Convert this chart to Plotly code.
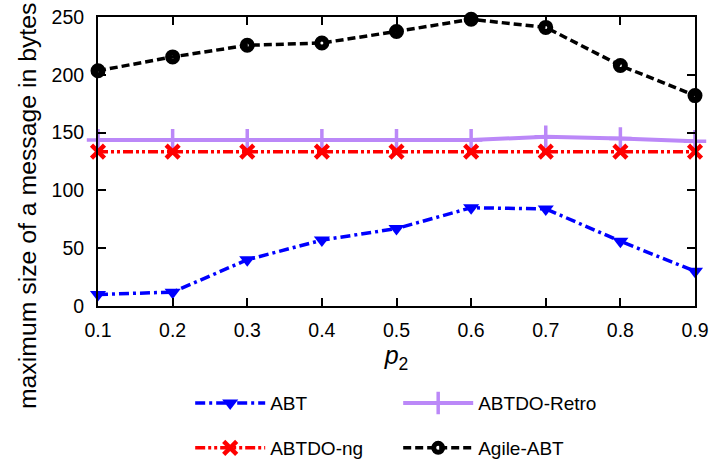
import plotly.graph_objects as go

p2 = [0.1, 0.2, 0.3, 0.4, 0.5, 0.6, 0.7, 0.8, 0.9]
abt = [10, 12, 40, 57, 67, 85, 84, 56, 30]
abtdo_retro = [143.5, 143.5, 143.5, 143.5, 143.5, 143.5, 146.5, 145, 142.5]
abtdo_ng = [133.5, 133.5, 133.5, 133.5, 133.5, 133.5, 133.5, 133.5, 133.5]
agile_abt = [203.5, 215.5, 225.5, 227.5, 237.5, 248, 241, 208, 182]

x_ticks = [0.1, 0.2, 0.3, 0.4, 0.5, 0.6, 0.7, 0.8, 0.9]
y_ticks = [0, 50, 100, 150, 200, 250]
y_title = "maximum size of a message in bytes"

FONT = "Liberation Sans, Arial, sans-serif"

fig = go.Figure()
fig.add_trace(go.Scatter(
    x=p2, y=abt, name="ABT", mode="lines+markers", legend="legend",
    line=dict(color="#0000ff", width=3.5, dash="10px,4px,3px,4px"),
    marker=dict(symbol="triangle-down", size=14, color="#0000ff"),
    cliponaxis=False))
fig.add_trace(go.Scatter(
    x=p2, y=abtdo_retro, name="ABTDO-Retro", mode="lines+markers", legend="legend",
    line=dict(color="#bb88f8", width=4),
    marker=dict(symbol="cross-thin", size=16, color="#bb88f8",
                line=dict(color="#bb88f8", width=3.5)),
    cliponaxis=False))
fig.add_trace(go.Scatter(
    x=p2, y=abtdo_ng, name="ABTDO-ng", mode="lines+markers", legend="legend2",
    line=dict(color="#ff0000", width=3.5, dash="10px,3px,3px,3px,3px,3px"),
    marker=dict(symbol="x-thin", size=13, color="#ff0000",
                line=dict(color="#ff0000", width=4.5)),
    cliponaxis=False))
fig.add_trace(go.Scatter(
    x=p2, y=agile_abt, name="Agile-ABT", mode="lines+markers", legend="legend2",
    line=dict(color="#000000", width=3.5, dash="8px,4px"),
    marker=dict(symbol="circle-open", size=9, color="#000000",
                line=dict(color="#000000", width=6)),
    cliponaxis=False))

axis_common = dict(
    showgrid=False, zeroline=False, showline=True, linecolor="#000000",
    linewidth=2, mirror="ticks", ticks="inside", ticklen=8, tickwidth=1.5,
    tickcolor="#000000", tickfont=dict(family=FONT, size=19.5, color="#000000"))

fig.update_xaxes(range=[0.1, 0.9], tickvals=x_ticks,
                 ticktext=[f"{v:.1f}" for v in x_ticks], ticklabelstandoff=6,
                 title=dict(text="<i>p</i><sub>2</sub>", standoff=3,
                            font=dict(family=FONT, size=25, color="#000000")),
                 **axis_common)
fig.update_yaxes(range=[0, 250], tickvals=y_ticks, ticklabelstandoff=8,
                 **axis_common)

fig.add_annotation(text=y_title, xref="paper", yref="paper",
                   x=-0.119, y=0.349, xanchor="center", yanchor="middle",
                   textangle=-90, showarrow=False,
                   font=dict(family=FONT, size=24.8, color="#000000"))

legend_common = dict(orientation="h", xanchor="left", yanchor="middle",
                     xref="container", yref="container",
                     entrywidth=123, font=dict(family=FONT, size=19, color="#000000"),
                     bgcolor="rgba(0,0,0,0)", itemwidth=70)
fig.update_layout(
    width=715, height=466,
    margin=dict(l=98, r=20, t=17, b=160, autoexpand=False),
    paper_bgcolor="white", plot_bgcolor="white",
    legend=dict(x=0.266, y=0.135, **legend_common),
    legend2=dict(x=0.266, y=0.0386, **legend_common),
)

fig.write_html("out.html")
